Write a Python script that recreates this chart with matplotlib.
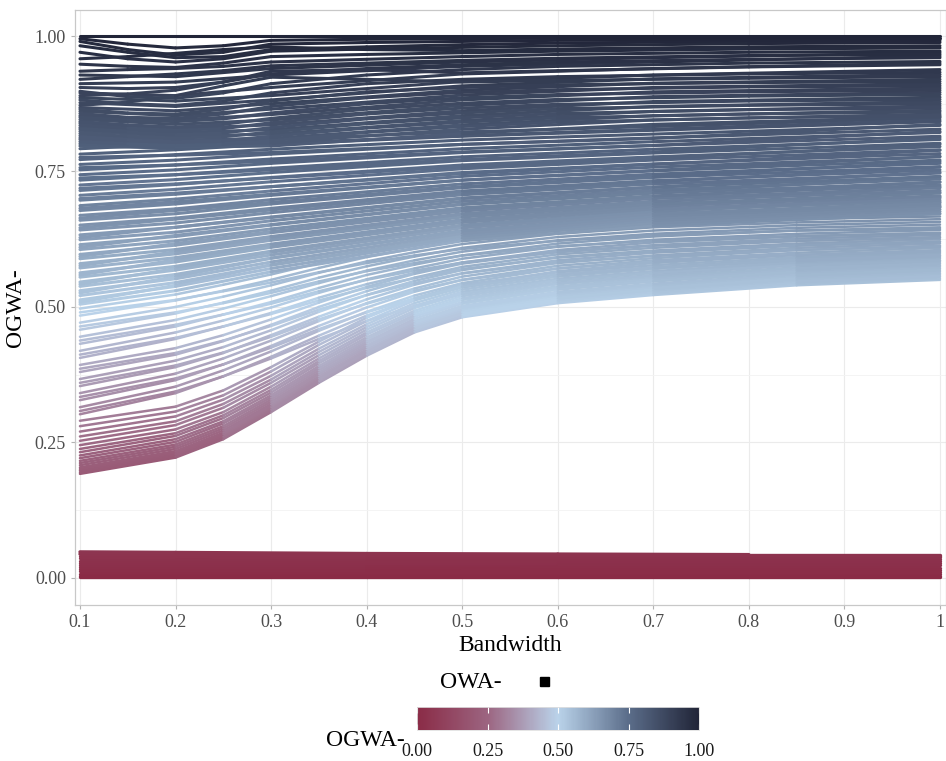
import numpy as np
import matplotlib
matplotlib.use("Agg")
import matplotlib.pyplot as plt
from matplotlib.collections import LineCollection
from matplotlib.colors import LinearSegmentedColormap, Normalize
from matplotlib.patches import Rectangle
from matplotlib.cm import ScalarMappable

plt.rcParams['font.family'] = ['Liberation Serif', 'DejaVu Serif']

# bandwidth grids the curves were read at
bandwidth_rise = [0.1, 0.2, 0.25, 0.3, 0.35, 0.4, 0.45, 0.5, 0.6, 0.7, 0.85, 1.0]
bandwidth_top = [0.1, 0.15, 0.2, 0.25, 0.3, 0.4, 0.5, 0.6, 0.8, 1.0]
bandwidth_mid = [0.1, 0.2, 0.3, 0.5, 0.7, 1.0]
bandwidth_floor = [0.1, 0.2, 0.4, 0.6, 0.8, 1.0]

# low-start curves that climb towards ~0.55-0.67
rising_lines = [
    [.192, .222, .256, .306, .360, .410, .453, .481, .507, .522, .540, .550],
    [.195, .225, .259, .309, .363, .413, .456, .484, .510, .525, .543, .553],
    [.198, .228, .262, .312, .366, .416, .459, .487, .513, .528, .546, .556],
    [.201, .231, .265, .315, .369, .419, .462, .490, .516, .531, .549, .559],
    [.204, .234, .268, .318, .372, .422, .465, .493, .519, .534, .552, .562],
    [.208, .238, .272, .321, .376, .426, .468, .496, .522, .537, .555, .565],
    [.212, .242, .276, .325, .379, .429, .471, .499, .525, .540, .558, .568],
    [.216, .246, .280, .329, .383, .433, .474, .502, .528, .543, .561, .571],
    [.221, .251, .285, .333, .387, .436, .478, .506, .532, .547, .564, .574],
    [.226, .256, .289, .337, .391, .440, .482, .509, .535, .550, .567, .577],
    [.232, .262, .295, .342, .396, .444, .485, .513, .538, .553, .570, .580],
    [.238, .267, .300, .347, .400, .449, .489, .516, .542, .556, .573, .583],
    [.245, .274, .306, .353, .405, .453, .493, .520, .545, .559, .577, .586],
    [.253, .282, .314, .360, .411, .458, .498, .524, .549, .563, .580, .589],
    [.261, .289, .321, .366, .417, .463, .502, .528, .552, .566, .583, .592],
    [.270, .298, .329, .373, .423, .468, .507, .532, .556, .570, .586, .595],
    [.280, .307, .337, .381, .430, .474, .512, .536, .560, .573, .589, .598],
    [.290, .316, .346, .389, .436, .480, .516, .541, .564, .577, .592, .601],
    [.302, .341, .372, .408, .447, .484, .514, .538, .566, .581, .596, .605],
    [.308, .344, .372, .405, .441, .474, .502, .524, .549, .563, .577, .585],
    [.315, .353, .383, .418, .456, .491, .521, .544, .571, .586, .600, .609],
    [.328, .365, .394, .428, .465, .499, .528, .550, .576, .590, .605, .613],
    [.334, .368, .394, .425, .459, .490, .516, .537, .560, .573, .586, .594],
    [.341, .377, .405, .438, .474, .507, .534, .556, .581, .595, .609, .617],
    [.354, .389, .415, .448, .482, .514, .541, .562, .586, .600, .613, .621],
    [.360, .392, .416, .445, .477, .506, .530, .550, .571, .584, .596, .603],
    [.367, .401, .426, .457, .491, .522, .548, .568, .592, .604, .617, .625],
    [.380, .412, .437, .467, .500, .529, .554, .574, .597, .609, .622, .629],
    [.386, .415, .438, .465, .495, .522, .544, .562, .583, .594, .605, .612],
    [.393, .424, .448, .477, .508, .537, .561, .580, .602, .614, .626, .633],
    [.406, .441, .464, .489, .517, .542, .563, .582, .605, .619, .630, .637],
    [.412, .443, .464, .487, .512, .535, .553, .570, .591, .603, .614, .620],
    [.419, .453, .475, .499, .526, .551, .571, .589, .611, .624, .635, .642],
    [.432, .464, .486, .509, .535, .559, .578, .595, .617, .630, .641, .647],
    [.438, .467, .486, .506, .529, .550, .567, .582, .601, .613, .622, .628],
    [.445, .476, .497, .520, .544, .567, .586, .602, .623, .635, .646, .652],
    [.458, .488, .508, .530, .554, .575, .593, .609, .629, .641, .651, .657],
    [.464, .490, .507, .526, .547, .566, .581, .595, .612, .622, .631, .636],
    [.471, .500, .519, .540, .563, .584, .601, .616, .635, .647, .656, .662],
    [.484, .512, .530, .550, .572, .592, .608, .623, .641, .652, .662, .667],
    [.490, .513, .529, .545, .564, .581, .595, .607, .622, .632, .641, .644],
    [.497, .523, .541, .560, .581, .600, .616, .630, .648, .658, .667, .672],
]

# mid curves, almost flat with a slow climb
middle_lines = [
    [0.505, 0.530, 0.565, 0.622, 0.650, 0.672],
    [0.509, 0.540, 0.578, 0.630, 0.660, 0.685],
    [0.513, 0.538, 0.571, 0.627, 0.655, 0.676],
    [0.521, 0.545, 0.577, 0.632, 0.660, 0.680],
    [0.526, 0.556, 0.590, 0.640, 0.668, 0.694],
    [0.530, 0.552, 0.583, 0.636, 0.664, 0.684],
    [0.538, 0.560, 0.590, 0.641, 0.668, 0.688],
    [0.542, 0.571, 0.601, 0.650, 0.676, 0.703],
    [0.546, 0.568, 0.596, 0.646, 0.672, 0.692],
    [0.555, 0.575, 0.603, 0.651, 0.677, 0.697],
    [0.559, 0.587, 0.613, 0.660, 0.685, 0.712],
    [0.563, 0.583, 0.610, 0.656, 0.681, 0.701],
    [0.572, 0.591, 0.616, 0.661, 0.686, 0.705],
    [0.576, 0.602, 0.626, 0.670, 0.694, 0.722],
    [0.580, 0.598, 0.623, 0.666, 0.690, 0.710],
    [0.589, 0.606, 0.630, 0.672, 0.695, 0.715],
    [0.593, 0.617, 0.639, 0.680, 0.703, 0.731],
    [0.597, 0.614, 0.637, 0.677, 0.700, 0.720],
    [0.606, 0.622, 0.644, 0.683, 0.705, 0.725],
    [0.610, 0.632, 0.652, 0.690, 0.712, 0.740],
    [0.615, 0.630, 0.651, 0.689, 0.710, 0.730],
    [0.624, 0.638, 0.659, 0.695, 0.716, 0.736],
    [0.628, 0.647, 0.665, 0.700, 0.721, 0.749],
    [0.633, 0.647, 0.666, 0.701, 0.721, 0.741],
    [0.642, 0.655, 0.674, 0.707, 0.727, 0.747],
    [0.646, 0.662, 0.679, 0.711, 0.731, 0.758],
    [0.651, 0.664, 0.682, 0.714, 0.733, 0.753],
    [0.660, 0.672, 0.690, 0.720, 0.739, 0.759],
    [0.664, 0.678, 0.693, 0.722, 0.741, 0.768],
    [0.669, 0.681, 0.698, 0.727, 0.745, 0.765],
    [0.678, 0.690, 0.706, 0.734, 0.751, 0.771],
    [0.682, 0.694, 0.708, 0.734, 0.752, 0.778],
    [0.687, 0.699, 0.714, 0.741, 0.758, 0.777],
    [0.697, 0.708, 0.722, 0.748, 0.764, 0.783],
    [0.700, 0.710, 0.722, 0.746, 0.763, 0.789],
    [0.706, 0.717, 0.731, 0.755, 0.771, 0.790],
    [0.715, 0.726, 0.739, 0.762, 0.777, 0.796],
    [0.719, 0.727, 0.738, 0.759, 0.774, 0.800],
    [0.725, 0.735, 0.748, 0.770, 0.784, 0.802],
    [0.734, 0.744, 0.756, 0.777, 0.791, 0.809],
    [0.738, 0.744, 0.753, 0.772, 0.786, 0.812],
    [0.744, 0.753, 0.765, 0.785, 0.798, 0.815],
    [0.753, 0.762, 0.773, 0.792, 0.805, 0.822],
    [0.757, 0.762, 0.769, 0.786, 0.798, 0.824],
    [0.763, 0.771, 0.782, 0.800, 0.812, 0.828],
    [0.772, 0.781, 0.791, 0.808, 0.819, 0.835],
    [0.776, 0.780, 0.785, 0.800, 0.811, 0.837],
    [0.782, 0.790, 0.800, 0.815, 0.826, 0.842],
    [0.792, 0.800, 0.809, 0.823, 0.833, 0.849],
    [0.797, 0.793, 0.802, 0.816, 0.828, 0.845],
    [0.801, 0.795, 0.797, 0.820, 0.837, 0.851],
    [0.809, 0.801, 0.803, 0.828, 0.845, 0.856],
    [0.816, 0.808, 0.811, 0.836, 0.853, 0.863],
    [0.824, 0.815, 0.819, 0.844, 0.861, 0.871],
    [0.831, 0.822, 0.827, 0.853, 0.870, 0.879],
    [0.839, 0.829, 0.836, 0.862, 0.879, 0.887],
    [0.846, 0.837, 0.845, 0.872, 0.888, 0.896],
    [0.853, 0.845, 0.855, 0.882, 0.897, 0.904],
    [0.861, 0.853, 0.865, 0.891, 0.905, 0.912],
    [0.868, 0.862, 0.875, 0.900, 0.913, 0.920],
    [0.877, 0.870, 0.882, 0.908, 0.921, 0.929],
    [0.886, 0.880, 0.890, 0.916, 0.928, 0.938],
    [0.895, 0.890, 0.905, 0.930, 0.940, 0.950],
    [0.912, 0.915, 0.928, 0.944, 0.952, 0.963],
    [0.928, 0.925, 0.940, 0.952, 0.960, 0.969],
]

# upper curves, wiggly at small bandwidths
top_lines = [
    [1.000, 1.000, 1.000, 1.000, 1.000, 1.000, 1.000, 1.000, 1.000, 1.000],
    [0.995, 0.985, 0.978, 0.982, 0.992, 0.994, 0.995, 0.996, 0.997, 0.997],
    [0.990, 0.975, 0.965, 0.970, 0.985, 0.988, 0.990, 0.992, 0.993, 0.994],
    [0.982, 0.970, 0.960, 0.962, 0.975, 0.980, 0.984, 0.987, 0.990, 0.991],
    [0.970, 0.958, 0.952, 0.958, 0.972, 0.976, 0.979, 0.982, 0.986, 0.988],
    [0.958, 0.962, 0.968, 0.975, 0.980, 0.975, 0.973, 0.976, 0.980, 0.982],
    [0.948, 0.944, 0.942, 0.950, 0.962, 0.966, 0.969, 0.972, 0.976, 0.978],
    [0.935, 0.938, 0.940, 0.944, 0.952, 0.957, 0.962, 0.966, 0.970, 0.972],
    [0.920, 0.925, 0.930, 0.936, 0.945, 0.950, 0.955, 0.959, 0.964, 0.966],
    [0.905, 0.903, 0.905, 0.915, 0.930, 0.940, 0.947, 0.952, 0.957, 0.960],
    [0.898, 0.888, 0.885, 0.895, 0.912, 0.928, 0.938, 0.944, 0.950, 0.953],
    [0.890, 0.893, 0.900, 0.915, 0.935, 0.938, 0.932, 0.936, 0.943, 0.947],
    [0.882, 0.875, 0.872, 0.880, 0.895, 0.912, 0.920, 0.925, 0.930, 0.933],
    [0.872, 0.878, 0.890, 0.908, 0.924, 0.920, 0.915, 0.918, 0.922, 0.925],
    [0.865, 0.858, 0.856, 0.865, 0.880, 0.897, 0.905, 0.910, 0.914, 0.916],
    [0.857, 0.850, 0.848, 0.856, 0.870, 0.886, 0.896, 0.901, 0.906, 0.908],
    [0.850, 0.845, 0.842, 0.847, 0.858, 0.875, 0.886, 0.892, 0.897, 0.900],
    [0.842, 0.836, 0.832, 0.837, 0.848, 0.865, 0.876, 0.883, 0.889, 0.892],
    [0.835, 0.830, 0.826, 0.829, 0.840, 0.856, 0.867, 0.874, 0.880, 0.883],
    [0.828, 0.823, 0.818, 0.821, 0.831, 0.847, 0.858, 0.866, 0.872, 0.875],
    [0.820, 0.815, 0.812, 0.814, 0.823, 0.838, 0.849, 0.857, 0.864, 0.867],
    [0.812, 0.808, 0.805, 0.807, 0.815, 0.830, 0.841, 0.849, 0.856, 0.860],
    [0.805, 0.801, 0.798, 0.800, 0.807, 0.822, 0.833, 0.841, 0.849, 0.853],
]

# the flat band sitting just above zero
floor_lines = [
    [0.048, 0.047, 0.045, 0.044, 0.043, 0.043],
    [0.044, 0.043, 0.042, 0.042, 0.041, 0.041],
    [0.040, 0.040, 0.039, 0.039, 0.038, 0.038],
    [0.036, 0.036, 0.035, 0.035, 0.035, 0.035],
    [0.032, 0.032, 0.031, 0.031, 0.031, 0.031],
    [0.028, 0.028, 0.028, 0.027, 0.027, 0.027],
    [0.024, 0.024, 0.024, 0.023, 0.023, 0.023],
    [0.020, 0.020, 0.020, 0.019, 0.019, 0.019],
    [0.016, 0.016, 0.016, 0.015, 0.015, 0.015],
    [0.012, 0.012, 0.012, 0.011, 0.011, 0.011],
    [0.008, 0.008, 0.008, 0.008, 0.008, 0.008],
    [0.004, 0.004, 0.004, 0.004, 0.004, 0.004],
    [0.001, 0.001, 0.001, 0.001, 0.001, 0.001],
]

cbar_ticks = [0.0, 0.25, 0.5, 0.75, 1.0]
x_ticks = [0.1, 0.2, 0.3, 0.4, 0.5, 0.6, 0.7, 0.8, 0.9, 1.0]
x_ticklabels = ['0.1', '0.2', '0.3', '0.4', '0.5', '0.6', '0.7', '0.8', '0.9', '1']
y_ticks = [0.0, 0.25, 0.5, 0.75, 1.0]

cmap = LinearSegmentedColormap.from_list(
    'ogwa', [(0.0, '#8A2B46'), (0.25, '#9C6581'), (0.5, '#BAD3EA'),
             (0.75, '#5B6D8A'), (1.0, '#212538')])
norm = Normalize(0, 1)

fig = plt.figure(figsize=(9.46, 7.61), dpi=100)
ax = fig.add_axes([75 / 946, 1 - 605 / 761, 870.5 / 946, 595 / 761])


def draw_group(x, lines, lw=2.2):
    segs, vals = [], []
    for yv in lines:
        pts = np.column_stack([x, yv])
        for a, b in zip(pts[:-1], pts[1:]):
            segs.append([a, b])
            vals.append((a[1] + b[1]) / 2)
    lc = LineCollection(segs, colors=cmap(norm(np.array(vals))), linewidths=lw,
                        capstyle='round', joinstyle='round', zorder=3)
    ax.add_collection(lc)


draw_group(bandwidth_floor, floor_lines, lw=2.4)
draw_group(bandwidth_rise, rising_lines, lw=1.8)
draw_group(bandwidth_mid, middle_lines)
draw_group(bandwidth_top, top_lines)

ax.set_xlim(0.0948, 1.0058)
ax.set_ylim(-0.05, 1.048)
ax.set_xticks(x_ticks)
ax.set_xticklabels(x_ticklabels)
ax.set_yticks(y_ticks)
ax.set_yticklabels(['0.00', '0.25', '0.50', '0.75', '1.00'])
ax.set_yticks([0.125, 0.375, 0.625, 0.875], minor=True)
ax.grid(True, which='major', color='#EBEBEB', linewidth=0.8, zorder=0)
ax.grid(True, which='minor', axis='y', color='#F3F3F3', linewidth=0.6, zorder=0)
ax.set_axisbelow(True)
ax.tick_params(axis='both', which='major', labelsize=13, colors='#B3B3B3',
               labelcolor='#4D4D4D', length=3, width=0.8)
ax.tick_params(axis='both', which='minor', length=0)
for s in ax.spines.values():
    s.set_color('#C8C8C8')
    s.set_linewidth(0.9)

ax.set_xlabel('Bandwidth', fontsize=17, labelpad=3)
ax.set_ylabel('OGWA-', fontsize=17, labelpad=6)

# OWA- legend
fig.text(440 / 946, 1 - 683 / 761, 'OWA-', fontsize=17, ha='left', va='center')
fig.add_artist(Rectangle((540 / 946, 1 - 686 / 761), 9 / 946, 9 / 761,
                         transform=fig.transFigure, color='black'))

# colour bar
cax = fig.add_axes([417 / 946, 1 - 730 / 761, 282 / 946, 23 / 761])
cb = fig.colorbar(ScalarMappable(norm=norm, cmap=cmap), cax=cax,
                  orientation='horizontal', ticks=cbar_ticks)
cb.outline.set_edgecolor('#E0E0E0')
cb.outline.set_linewidth(0.6)
cax.set_xticklabels(['0.00', '0.25', '0.50', '0.75', '1.00'])
cax.tick_params(axis='x', direction='in', color='white', length=4, width=0.8,
                labelsize=13, labelcolor='#1A1A1A', pad=9, top=True)
fig.text(405 / 946, 1 - 741 / 761, 'OGWA-', fontsize=17, ha='right', va='center')

fig.savefig('out.png', dpi=100)
